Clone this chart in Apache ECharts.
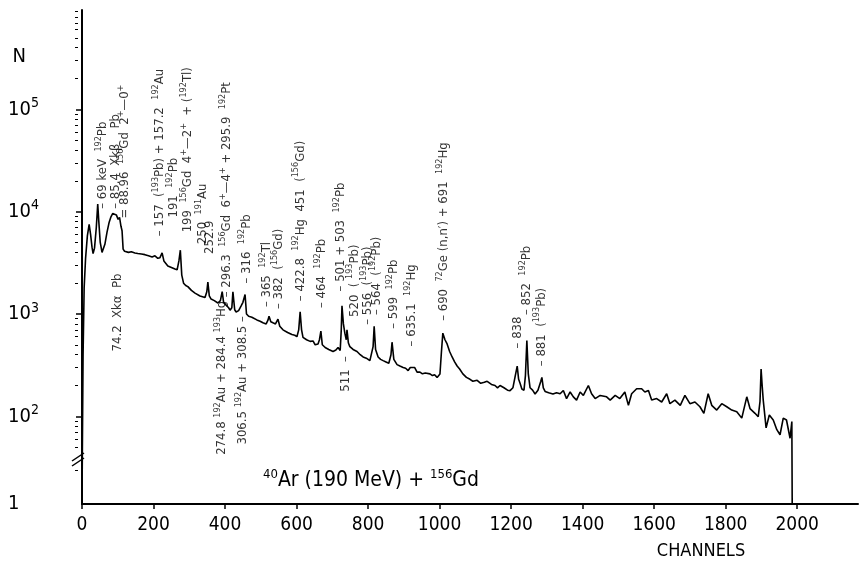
<!DOCTYPE html>
<html>
<head>
<meta charset="utf-8">
<script src="https://cdn.jsdelivr.net/npm/echarts@6.0.0/dist/echarts.min.js"></script>
<style>
html, body { margin: 0; padding: 0; background: #fff; }
#main { width: 860px; height: 565px; }
</style>
</head>
<body>
<div id="main"></div>
<script>
// gamma spectrum: channel -> counts
var channels = [0,1,3,6,10,15,20,24,28,31,35,40,44,47,51,56,59,64,70,76,81,86,91,96,101,105,109,112,115,119,123,130,138,148,156,166,176,186,196,204,212,218,224,229,240,250,260,266,271,275,279,284,290,296,306,316,330,344,349,352,356,361,370,380,387,392,396,403,410,414,419,422,427,431,438,445,450,456,460,466,475,489,498,506,515,520,523,528,534,541,548,553,562,575,587,595,601,606,610,614,618,628,638,646,652,660,664,668,672,680,690,702,710,716,722,725,727,731,735,739,741,745,749,758,769,778,786,795,805,810,814,817,821,828,835,842,850,858,864,867,872,881,889,898,905,912,918,923,930,937,945,952,960,973,980,986,993,998,1001,1005,1009,1015,1021,1028,1035,1042,1049,1056,1065,1075,1085,1093,1105,1115,1125,1133,1145,1155,1162,1169,1180,1190,1197,1205,1211,1217,1221,1225,1230,1236,1240,1244,1248,1253,1260,1267,1275,1283,1286,1290,1295,1305,1317,1327,1337,1346,1355,1365,1374,1383,1393,1402,1416,1425,1435,1449,1467,1477,1491,1504,1518,1528,1537,1551,1565,1574,1584,1593,1607,1621,1635,1644,1658,1673,1686,1700,1714,1728,1739,1751,1761,1775,1789,1803,1817,1831,1845,1859,1868,1882,1891,1896,1899,1902,1905,1913,1922,1933,1943,1952,1961,1970,1980,1985,1986];
var counts = [14,45,400,1800,3500,5800,7500,6000,4500,3900,4400,7000,11900,8000,5000,4000,3900,4800,6300,7900,8900,9600,10000,9300,8400,8800,7200,6500,4300,4100,4150,4000,4050,3950,3900,3850,3800,3700,3600,3700,3500,3550,3950,3300,2950,2850,2750,2700,3300,4200,2400,2000,1900,1850,1700,1600,1500,1450,1650,2050,1500,1400,1350,1280,1350,1650,1300,1220,1150,1090,1150,1650,1100,1045,1080,1200,1300,1550,1000,950,930,875,850,820,800,870,950,840,820,800,890,760,700,660,630,620,600,700,1050,700,590,560,540,545,500,510,560,680,500,470,450,430,445,470,440,700,1200,800,650,560,700,520,480,450,430,400,380,370,350,360,480,760,450,380,360,350,340,330,400,530,360,320,310,300,295,280,300,290,300,270,270,260,265,260,250,255,240,250,259,420,650,560,510,430,380,340,310,290,260,240,230,220,225,210,215,220,205,200,190,200,190,180,178,190,243,310,230,210,185,180,250,550,260,190,180,165,180,220,240,190,175,170,165,170,166,179,149,173,155,144,173,160,200,166,149,160,155,144,160,149,173,128,166,186,186,173,179,144,149,138,166,133,144,128,160,133,138,124,107,166,128,115,133,124,115,111,96,155,119,107,99,140,290,200,144,77,103,92,74,66,96,92,61,89,14];

// peak labels: channel, count level where the text starts, text
var annCh = [59,95,120,101,218,257,296,338,358,405,391,450,459,517,551,610,671,724,761,800,825,872,923,1012,1219,1244,1284,738];
var annN = [10690,10690,8570,431,5750,8760,6280,4815,3860,1456,42,53,1986,1167,1117,1334,1143,1663,935,784,978,717,482,857,461,978,309,174];
var annText = [
  '– 69 keV  {s|192}Pb',
  '– 85.4  Xkβ    Pb',
  '= 88.96  {s|156}Gd  2{s|+}—0{s|+}',
  '74.2  Xkα  Pb',
  '– 157  ({s|193}Pb) + 157.2  {s|192}Au',
  '191  {s|192}Pb',
  '199  {s|156}Gd  4{s|+}—2{s|+}  + ({s|192}Tl)',
  '250  {s|191}Au',
  '252.9',
  '– 296.3  {s|156}Gd  6{s|+}—4{s|+} + 295.9  {s|192}Pt',
  '274.8 {s|192}Au + 284.4 {s|193}Hg',
  '306.5 {s|192}Au + 308.5 –',
  '– 316  {s|192}Pb',
  '– 365  {s|192}Tl',
  '– 382  ({s|156}Gd)',
  '– 422.8  {s|192}Hg  451  ({s|156}Gd)',
  '– 464  {s|192}Pb',
  '– 501 + 503  {s|192}Pb',
  '520  ( {s|193}Pb)',
  '– 556  ({s|193}Pb)',
  '– 564  ({s|192}Pb)',
  '– 599  {s|192}Pb',
  '– 635.1  {s|192}Hg',
  '– 690  {s|72}Ge (n,n′) + 691  {s|192}Hg',
  '– 838',
  '– 852  {s|192}Pb',
  '– 881  ({s|193}Pb)',
  '511  –'
];

var xTicks = [0, 200, 400, 600, 800, 1000, 1200, 1400, 1600, 1800, 2000];
// lowest label "1" sits at the bottom of the broken axis
var yLabels = [14, 100, 1000, 10000, 100000];

var FONT = '"DejaVu Sans Condensed", "Liberation Sans Narrow", "DejaVu Sans", sans-serif';
var INK = '#000';

var majorTicks = [100, 1000, 10000, 100000];
var minorTicks = [];
for (var k = 1; k <= 5; k++) {
    for (var m = 2; m <= 9; m++) {
        var t = m * Math.pow(10, k);
        if (k == 1 && m < 3) continue;
        if (t < 935000) minorTicks.push(t);
    }
}

var spectrum = [];
for (var i = 0; i < channels.length; i++) {
    spectrum.push([channels[i], counts[i]]);
}
var marks = [];
for (var j = 0; j < annCh.length; j++) {
    marks.push([annCh[j], annN[j]]);
}

var myChart = echarts.init(document.getElementById('main'));
var option = {
    animation: false,
    backgroundColor: '#fff',
    textStyle: { fontFamily: FONT, color: INK },
    title: {
        text: '{s|40}Ar (190 MeV) + {s|156}Gd',
        left: 258,
        top: 463,
        textStyle: {
            fontFamily: FONT, fontSize: 21, fontWeight: 'normal', color: INK, lineHeight: 26,
            rich: { s: { fontFamily: FONT, fontSize: 13, color: INK, verticalAlign: 'top', lineHeight: 12 } }
        }
    },
    grid: { left: 82, right: 2, top: 10, bottom: 53, containLabel: false },
    xAxis: {
        type: 'value',
        min: 0,
        max: 2170,
        name: 'CHANNELS',
        nameLocation: 'middle',
        nameGap: 38,
        nameTextStyle: { fontFamily: FONT, fontSize: 18, color: INK, padding: [0, 0, 0, 462] },
        axisLine: { lineStyle: { color: INK, width: 2 } },
        axisTick: { customValues: xTicks, length: 5, lineStyle: { color: INK, width: 1.5 } },
        minorTick: { show: false },
        axisLabel: {
            customValues: xTicks, fontFamily: FONT, fontSize: 19, color: INK, margin: 12,
            formatter: function (v) { return String(v); }
        },
        splitLine: { show: false }
    },
    yAxis: [{
        type: 'log',
        logBase: 10,
        min: 13.9,
        max: 935000,
        position: 'left',
        offset: 4,
        name: 'N',
        nameLocation: 'end',
        nameGap: -47,
        nameTextStyle: { fontFamily: FONT, fontSize: 20, color: INK, align: 'right', verticalAlign: 'middle', padding: [0, 56, 0, 0] },
        axisLine: { show: true, lineStyle: { color: INK, width: 2 } },
        axisTick: { show: true, customValues: majorTicks, length: 6, lineStyle: { color: INK, width: 1.5 } },
        axisLabel: {
            customValues: yLabels,
            align: 'left',
            margin: 70,
            fontFamily: FONT,
            fontSize: 20,
            color: INK,
            lineHeight: 26,
            formatter: function (v) {
                if (v < 50) return '1';
                return '10{s|' + Math.round(Math.log10(v)) + '}';
            },
            rich: { s: { fontFamily: FONT, fontSize: 14, color: INK, verticalAlign: 'top', lineHeight: 12 } }
        },
        splitLine: { show: false }
    }, {
        type: 'log',
        logBase: 10,
        min: 13.9,
        max: 935000,
        position: 'left',
        offset: 4,
        axisLine: { show: false },
        axisTick: { show: true, customValues: minorTicks, length: 3, lineStyle: { color: INK, width: 1 } },
        axisLabel: { show: false },
        splitLine: { show: false }
    }],
    graphic: [
        { type: 'rect', shape: { x: 75, y: 456, width: 6, height: 6 }, style: { fill: '#fff' }, z: 100 },
        { type: 'line', shape: { x1: 72, y1: 461, x2: 84, y2: 453 }, style: { stroke: INK, lineWidth: 1.5 }, z: 101 },
        { type: 'line', shape: { x1: 72, y1: 466, x2: 84, y2: 458 }, style: { stroke: INK, lineWidth: 1.5 }, z: 101 }
    ],
    series: [{
        type: 'line',
        data: spectrum,
        showSymbol: false,
        symbol: 'none',
        lineStyle: { color: INK, width: 1.6 },
        clip: true,
        z: 3
    }, {
        type: 'scatter',
        data: marks,
        symbolSize: 1,
        itemStyle: { color: 'rgba(0,0,0,0)' },
        label: {
            show: true,
            position: 'inside',
            rotate: 90,
            align: 'left',
            verticalAlign: 'middle',
            fontFamily: FONT,
            fontSize: 13,
            color: INK,
            lineHeight: 18,
            formatter: function (p) { return annText[p.dataIndex]; },
            rich: { s: { fontFamily: FONT, fontSize: 9, color: INK, verticalAlign: 'top', lineHeight: 9 } }
        },
        z: 4
    }]
};
myChart.setOption(option);
</script>
</body>
</html>
